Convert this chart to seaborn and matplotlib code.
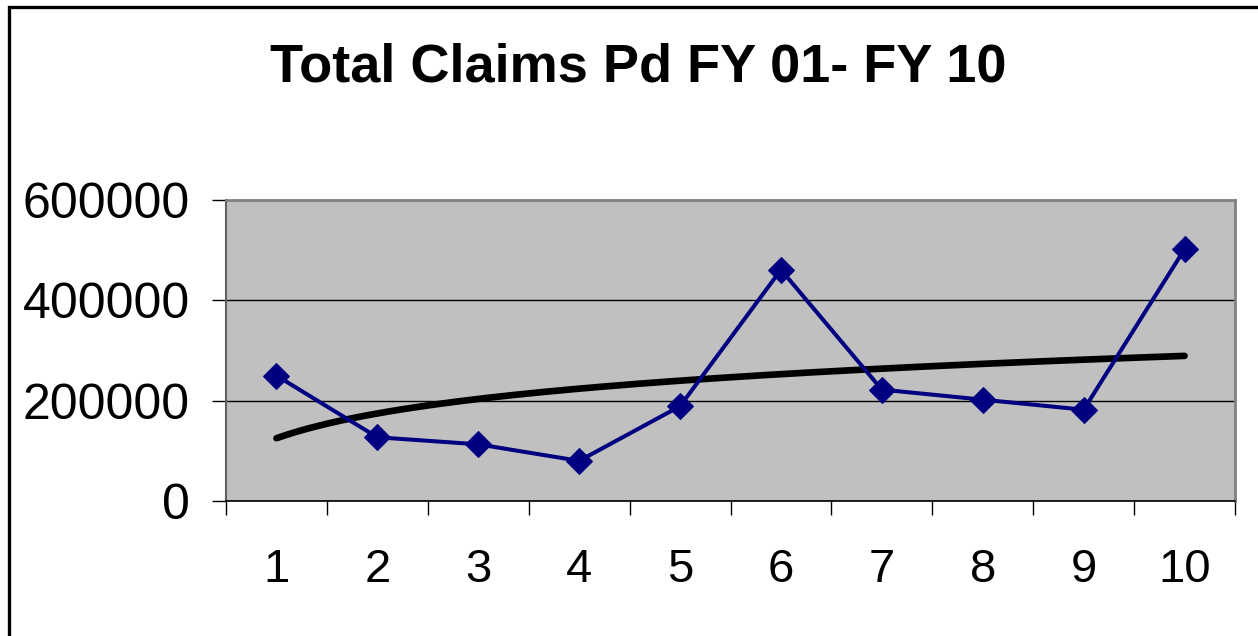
import numpy as np
import pandas as pd
import matplotlib
matplotlib.use("Agg")
import matplotlib.pyplot as plt
from matplotlib.patches import Rectangle
import seaborn as sns

# fiscal year index and total claims paid
years = [1, 2, 3, 4, 5, 6, 7, 8, 9, 10]
claims = [250000, 127000, 113000, 80000, 189000, 461000, 222000, 202000, 182000, 502000]
y_ticks = [0, 200000, 400000, 600000]
title = "Total Claims Pd FY 01- FY 10"

sns.set_style("white")
plt.rcParams["font.family"] = ["Liberation Sans", "DejaVu Sans"]
plt.rcParams["text.color"] = "black"
plt.rcParams["xtick.color"] = "black"
plt.rcParams["ytick.color"] = "black"

df = pd.DataFrame({"year": years, "claims": claims})

# logarithmic trendline fitted to the data (as Excel does)
b, a = np.polyfit(np.log(df["year"]), df["claims"], 1)
xs = np.linspace(years[0], years[-1], 200)
trend = pd.DataFrame({"year": xs, "claims": a + b * np.log(xs)})

fig = plt.figure(figsize=(12.58, 6.36), dpi=100)
ax = fig.add_axes([226 / 1258, 1 - 501 / 636, (1235 - 226) / 1258, (501 - 200) / 636])
ax.set_facecolor("#C0C0C0")

sns.lineplot(data=df, x="year", y="claims", ax=ax, color="#000080", lw=2.9,
             marker="D", markersize=13.5, markeredgecolor="#000080", zorder=4)
sns.lineplot(data=trend, x="year", y="claims", ax=ax, color="black", lw=4.8,
             solid_capstyle="round", zorder=3)

ax.set_xlim(0.5, 10.5)
ax.set_ylim(0, 600000)
ax.set_xticks(years)
ax.set_xticks(np.arange(0.5, 11, 1), minor=True)
ax.set_yticks(y_ticks)
ax.set_yticklabels([str(v) for v in y_ticks])
ax.grid(axis="y", color="black", lw=1)
ax.set_axisbelow(True)
ax.tick_params(axis="x", which="major", length=0, pad=34, labelsize=34)
ax.tick_params(axis="x", which="minor", length=10, width=1, color="black", bottom=True)
ax.tick_params(axis="y", which="major", length=10, width=1, color="black", left=True,
               pad=16, labelsize=36)
ax.set_xlabel("")
ax.set_ylabel("")

for side in ["top", "right"]:
    ax.spines[side].set_color("#808080")
    ax.spines[side].set_linewidth(2)
ax.spines["left"].set_color("#606060")
ax.spines["left"].set_linewidth(1.5)
ax.spines["bottom"].set_color("black")
ax.spines["bottom"].set_linewidth(1.2)

fig.text(638 / 1258, 1 - 67 / 636, title, ha="center", va="center",
         fontsize=39, fontweight="bold", color="black")

# chart border running off the right and bottom edges
fig.patches.append(Rectangle((8.5 / 1258, -0.1), 1.2, 1 - 6.5 / 636 + 0.1,
                             transform=fig.transFigure, fill=False,
                             edgecolor="black", lw=2.4))

fig.savefig("out.png", dpi=100)
